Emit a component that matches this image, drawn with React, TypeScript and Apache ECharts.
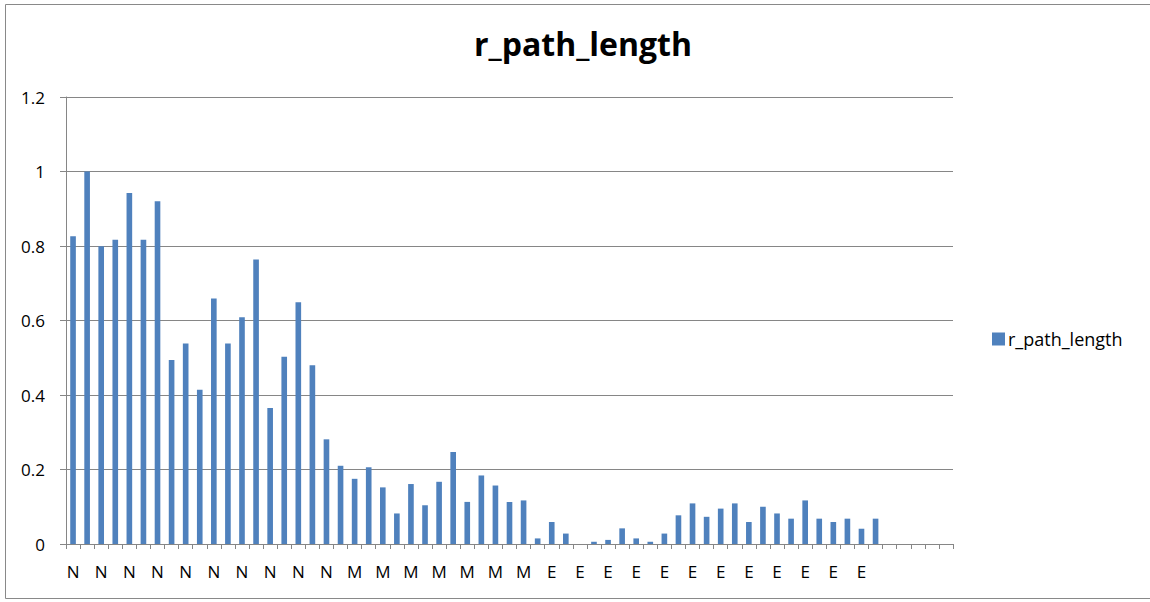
import React, { useEffect, useRef } from "react";
import * as echarts from "echarts";

const categories: string[] = [
  ...Array(20).fill("N"),
  ...Array(14).fill("M"),
  ...Array(24).fill("E"),
  "", "", "", "", "",
];

const values: (number | null)[] = [
  0.826, 1.0, 0.799, 0.817, 0.942, 0.817, 0.92, 0.494, 0.538, 0.414,
  0.659, 0.538, 0.609, 0.764, 0.365, 0.503, 0.649, 0.48, 0.281, 0.21,
  0.175, 0.206, 0.152, 0.082, 0.161, 0.104, 0.167, 0.247, 0.113, 0.184,
  0.157, 0.113, 0.117, 0.015, 0.059, 0.028, 0.0, 0.006, 0.011, 0.042,
  0.015, 0.006, 0.028, 0.077, 0.109, 0.073, 0.095, 0.109, 0.059, 0.1,
  0.082, 0.068, 0.117, 0.068, 0.059, 0.068, 0.041, 0.068,
  null, null, null, null, null,
];

const seriesName = "r_path_length";
const titleText = "r_path_length";

export default function App() {
  const ref = useRef<HTMLDivElement>(null);
  useEffect(() => {
    document.body.style.margin = "0";
    const chart = echarts.init(ref.current!, null, { renderer: "svg" });
    const font = "'Open Sans', Lato, sans-serif";
    chart.setOption({
      animation: false,
      backgroundColor: "#ffffff",
      textStyle: { fontFamily: font },
      title: {
        text: titleText,
        left: 578,
        top: 22,
        textAlign: "center",
        textStyle: { fontSize: 32, fontWeight: "bold", color: "#000", fontFamily: font },
      },
      legend: {
        data: [seriesName],
        left: 987,
        top: 325,
        orient: "vertical",
        itemWidth: 13,
        itemHeight: 13,
        itemGap: 4,
        icon: "rect",
        textStyle: { fontSize: 18, color: "#000", fontFamily: font, padding: [0, 0, 0, -2] },
      },
      graphic: [
        {
          type: "rect",
          shape: { x: 5.5, y: 4.5, width: 1160, height: 594 },
          style: { fill: "none", stroke: "#898989", lineWidth: 1 },
          silent: true,
        },
      ],
      grid: { left: 66, right: 197, top: 97, bottom: 58, containLabel: false },
      xAxis: {
        type: "category",
        data: categories,
        boundaryGap: true,
        axisLine: { lineStyle: { color: "#868686", width: 1 } },
        axisTick: { show: true, interval: 0, length: 5, lineStyle: { color: "#868686" } },
        axisLabel: { interval: 1, color: "#000", fontSize: 17, margin: 19, fontFamily: font },
        splitLine: { show: false },
      },
      yAxis: {
        type: "value",
        min: 0,
        max: 1.2,
        interval: 0.2,
        axisLine: { show: true, lineStyle: { color: "#868686", width: 1 } },
        axisTick: { show: true, length: 6, lineStyle: { color: "#868686" } },
        axisLabel: {
          color: "#000",
          fontSize: 17,
          margin: 21,
          fontFamily: font,
          formatter: (v: number) => String(Math.round(v * 10) / 10),
        },
        splitLine: { show: true, lineStyle: { color: "#868686", width: 1 } },
      },
      series: [
        {
          name: seriesName,
          type: "bar",
          data: values,
          barWidth: "40%",
          itemStyle: { color: "#4F81BD" },
        },
      ],
    });
    return () => chart.dispose();
  }, []);
  return (
    <div
      ref={ref}
      style={{ position: "absolute", left: 0, top: 0, width: 1150, height: 602 }}
    />
  );
}
